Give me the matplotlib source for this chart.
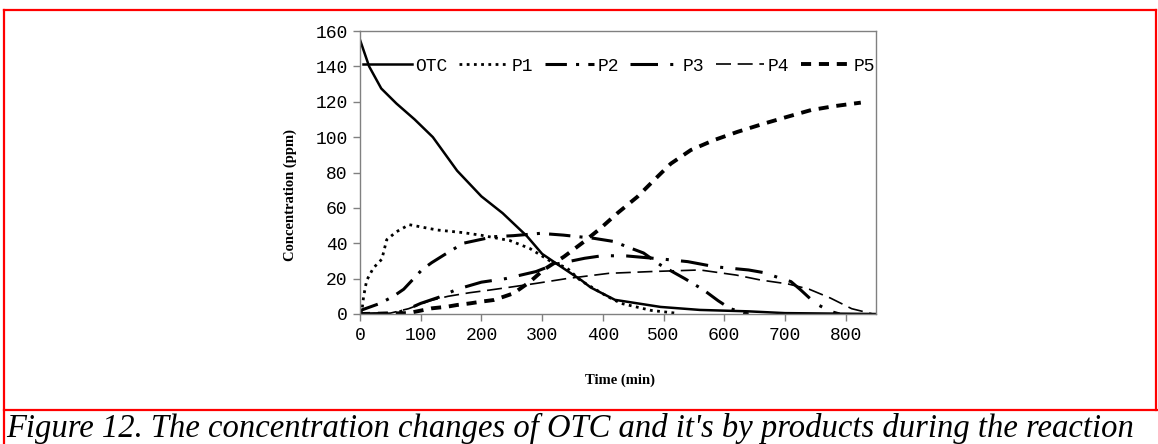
import matplotlib
matplotlib.use("Agg")
import matplotlib.pyplot as plt
from matplotlib.lines import Line2D

# datos (tiempo en min, concentracion en ppm)
t_otc = [0, 15, 35, 60, 90, 120, 160, 200, 235, 275, 300, 330, 365, 380, 420, 495, 560, 640, 700, 850]
otc = [155, 140, 127.5, 119, 110, 100, 81, 66.5, 57, 44, 34, 27, 19, 15, 8, 4, 2.3, 1.5, 0.5, 0]

t_p1 = [0, 3, 6, 11, 22, 36, 44, 60, 81, 127, 170, 200, 247, 280, 313, 341, 363, 407, 430, 480, 520]
p1 = [0, 1.5, 10, 19, 26, 31, 42, 46.5, 50.5, 47.5, 46, 44.5, 41.5, 37, 30, 26, 19, 10, 6, 2, 0.5]

t_p2 = [0, 3, 33, 55, 72, 102, 118, 138, 170, 220, 253, 297, 335, 360, 385, 418, 440, 467, 495,
        535, 566, 590, 610, 640]
p2 = [0, 2.3, 6, 10, 14, 25, 29, 33.3, 40, 43.7, 44.3, 45.6, 44.6, 43.7, 42.8, 41, 38, 34.5, 27.7,
      20, 13.6, 7.5, 3, 0]

t_p3 = [0, 60, 80, 100, 130, 160, 200, 240, 290, 320, 370, 400, 440, 500, 540, 585, 640, 665, 690,
        710, 726, 750, 775, 790]
p3 = [0, 0.5, 3, 6, 9.5, 14, 18, 20, 24, 28, 31.5, 33, 32.8, 31, 29.6, 26.7, 24.9, 23.4, 20.5,
      18.3, 13.6, 6, 1.5, 0]

t_p4 = [0, 50, 80, 115, 145, 180, 215, 250, 290, 340, 410, 480, 560, 620, 660, 705, 740, 775, 810, 830, 845]
p4 = [0, 0.5, 3, 7.5, 10, 12, 13.6, 15.3, 17.3, 20, 23, 24, 24.9, 22, 19.2, 17, 14, 9, 3, 1.3, 0]

t_p5 = [0, 80, 118, 143, 160, 181, 200, 220, 237, 253, 280, 302, 336, 369, 396, 424, 457, 490, 512,
        545, 583, 622, 666, 704, 743, 781, 825]
p5 = [0, 0.5, 3.2, 4.1, 5.1, 6, 7, 7.9, 9.8, 11.7, 18.2, 24.9, 32.4, 40.9, 48.4, 57, 66.3, 77.6, 85,
      92.7, 98.3, 103, 107.7, 111.5, 115.3, 117.5, 119.5]

x_ticks = [0, 100, 200, 300, 400, 500, 600, 700, 800]
y_ticks = [0, 20, 40, 60, 80, 100, 120, 140, 160]

caption = "Figure 12. The concentration changes of OTC and it's by products during the reaction"

fig = plt.figure(figsize=(11.58, 4.44), dpi=100)
ax = fig.add_axes([360 / 1158, 1 - 314 / 444, 516 / 1158, 283 / 444])

ax.plot(t_otc, otc, color="black", lw=1.8, ls="-", label="OTC")
ax.plot(t_p1, p1, color="black", lw=2.0, ls=(0, (1, 1.6)), label="P1")
ax.plot(t_p2, p2, color="black", lw=2.2, ls=(0, (7, 3, 1, 3)), label="P2")
ax.plot(t_p3, p3, color="black", lw=2.2, ls=(0, (9, 4, 1, 4)), label="P3")
ax.plot(t_p4, p4, color="black", lw=1.2, ls=(0, (9, 4)), label="P4")
ax.plot(t_p5, p5, color="black", lw=2.8, ls=(0, (2.6, 2)), label="P5")

ax.set_xlim(0, 850)
ax.set_ylim(0, 160)
ax.set_xticks(x_ticks)
ax.set_yticks(y_ticks)

tick_font = {"family": "Liberation Mono", "size": 13}
ax.set_xticklabels([str(v) for v in x_ticks], fontdict=tick_font)
ax.set_yticklabels([str(v) for v in y_ticks], fontdict=tick_font)
ax.tick_params(direction="out", length=5, width=1, color="#808080", pad=4)
for sp in ax.spines.values():
    sp.set_color("#808080")
    sp.set_linewidth(1)

ax.set_xlabel("Time (min)", family="Liberation Serif", weight="bold", size=10.5)
ax.set_ylabel("Concentration (ppm)", family="Liberation Serif", weight="bold", size=10.5)
ax.xaxis.set_label_coords(0.504, -0.233)
ax.yaxis.set_label_coords(-0.136, 0.42)
ax.xaxis.label.set_va("center")
ax.yaxis.label.set_va("center")

ax.legend(loc="center", bbox_to_anchor=(0.502, 0.876), ncol=6, frameon=False,
          prop={"family": "Liberation Mono", "size": 13}, handlelength=2.7,
          handletextpad=0.2, columnspacing=0.64, borderpad=0)

# marco rojo y leyenda de la figura
W, H = 1158, 444
red = dict(color="red", lw=1.6, transform=fig.transFigure)
fig.add_artist(Line2D([4 / W, 4 / W], [0, 1 - 10 / H], **red))
fig.add_artist(Line2D([4 / W, 1156 / W], [1 - 10 / H, 1 - 10 / H], **red))
fig.add_artist(Line2D([1156 / W, 1156 / W], [1 - 10 / H, 1 - 410 / H], **red))
fig.add_artist(Line2D([4 / W, 1], [1 - 410 / H, 1 - 410 / H], **red))

fig.text(6 / W, 1 - 437 / H, caption, family="Liberation Serif", style="italic", size=23.5,
         ha="left", va="baseline")

fig.savefig("out.png", dpi=100)
